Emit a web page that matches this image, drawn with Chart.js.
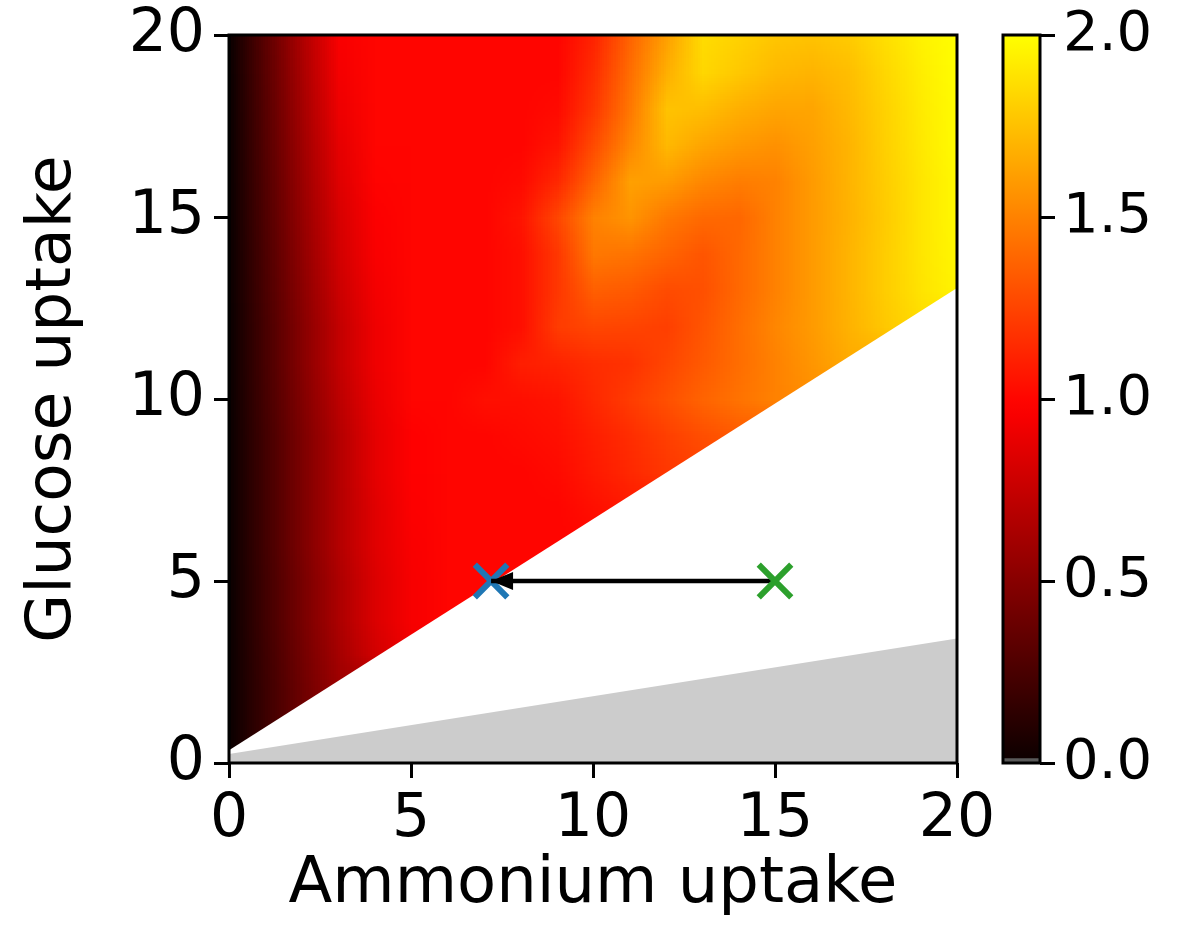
<!DOCTYPE html>
<html>
<head>
<meta charset="utf-8">
<script src="https://cdn.jsdelivr.net/npm/chart.js@4.4.1/dist/chart.umd.min.js"></script>
<style>
  html, body { margin: 0; padding: 0; background: #ffffff; }
  #wrap { position: relative; width: 1184px; height: 950px; overflow: hidden; }
  #main { position: absolute; left: 0; top: 0; }
  #cbar { position: absolute; left: 960px; top: 0; }
</style>
</head>
<body>
<div id="wrap">
  <canvas id="main" width="1184" height="950"></canvas>
  <canvas id="cbar" width="224" height="950"></canvas>
</div>
<script>
// ---------------- data ----------------
// grid nodes (ammonium uptake on x, glucose uptake on y)
const ammonium = [0,1,2,3,4,5,6,7,8,9,10,11,12,13,14,15,16,17,18,19,20];
const glucose  = [0,1,2,3,4,5,6,7,8,9,10,11,12,13,14,15,16,17,18,19,20];

// growth rate, one row per glucose level (row ends where the region turns white)
const g0  = [0.00, 0.20];
const g1  = [0.00, 0.20, 0.40];
const g2  = [0.00, 0.20, 0.40, 0.58];
const g3  = [0.00, 0.21, 0.42, 0.62, 0.80, 0.92];
const g4  = [0.00, 0.22, 0.44, 0.65, 0.84, 0.95, 1.00];
const g5  = [0.00, 0.22, 0.44, 0.65, 0.84, 0.95, 1.00, 1.00, 1.00];
const g6  = [0.00, 0.23, 0.46, 0.68, 0.86, 0.96, 1.00, 1.00, 1.00, 1.00];
const g7  = [0.00, 0.23, 0.46, 0.68, 0.86, 0.97, 1.00, 1.00, 1.00, 1.00, 1.04, 1.08];
const g8  = [0.00, 0.23, 0.46, 0.68, 0.88, 0.98, 1.00, 1.00, 1.00, 1.02, 1.08, 1.14, 1.20, 1.24];
const g9  = [0.00, 0.23, 0.46, 0.68, 0.88, 0.98, 1.00, 1.00, 1.02, 1.04, 1.10, 1.16, 1.23, 1.29, 1.34];
const g10 = [0.00, 0.24, 0.48, 0.71, 0.90, 1.00, 1.00, 1.04, 1.04, 1.06, 1.14, 1.22, 1.30, 1.38, 1.44, 1.50, 1.55];
const g11 = [0.00, 0.25, 0.50, 0.74, 0.92, 1.00, 1.00, 1.00, 1.10, 1.12, 1.16, 1.18, 1.26, 1.34, 1.42, 1.50, 1.58, 1.66];
const g12 = [0.00, 0.25, 0.50, 0.74, 0.92, 1.00, 1.00, 1.00, 1.04, 1.22, 1.26, 1.25, 1.23, 1.32, 1.42, 1.52, 1.60, 1.69, 1.78, 1.86];
const g13 = [0.00, 0.26, 0.52, 0.77, 0.94, 1.00, 1.00, 1.00, 1.04, 1.20, 1.36, 1.34, 1.28, 1.30, 1.40, 1.50, 1.60, 1.70, 1.80, 1.89, 1.96];
const g14 = [0.00, 0.27, 0.54, 0.80, 0.96, 1.00, 1.00, 1.00, 1.04, 1.20, 1.46, 1.44, 1.38, 1.32, 1.40, 1.50, 1.60, 1.70, 1.80, 1.90, 1.97];
const g15 = [0.00, 0.28, 0.56, 0.82, 0.97, 1.00, 1.00, 1.00, 1.06, 1.26, 1.50, 1.57, 1.46, 1.40, 1.39, 1.50, 1.60, 1.69, 1.79, 1.90, 1.98];
const g16 = [0.00, 0.29, 0.58, 0.85, 0.99, 1.00, 1.00, 1.00, 1.02, 1.14, 1.38, 1.62, 1.60, 1.52, 1.48, 1.50, 1.60, 1.70, 1.80, 1.90, 1.98];
const g17 = [0.00, 0.30, 0.60, 0.88, 1.00, 1.00, 1.00, 1.00, 1.00, 1.06, 1.28, 1.52, 1.72, 1.64, 1.59, 1.56, 1.62, 1.70, 1.81, 1.91, 1.99];
const g18 = [0.00, 0.31, 0.62, 0.91, 1.00, 1.00, 1.00, 1.00, 1.00, 1.02, 1.20, 1.46, 1.76, 1.74, 1.68, 1.64, 1.64, 1.72, 1.82, 1.92, 1.99];
const g19 = [0.00, 0.32, 0.64, 0.94, 1.00, 1.00, 1.00, 1.00, 1.00, 1.00, 1.16, 1.42, 1.68, 1.84, 1.78, 1.72, 1.70, 1.74, 1.84, 1.93, 2.00];
const g20 = [0.00, 0.33, 0.66, 0.96, 1.00, 1.00, 1.00, 1.00, 1.00, 1.00, 1.12, 1.38, 1.62, 1.86, 1.82, 1.77, 1.76, 1.79, 1.87, 1.95, 2.00];
const growthRows = [g0,g1,g2,g3,g4,g5,g6,g7,g8,g9,g10,g11,g12,g13,g14,g15,g16,g17,g18,g19,g20];

// region edges
const edgeAmmonium   = [0, 20];
const feasibleEdge   = [0.35, 13.05];   // above: coloured, below: white
const zeroGrowthEdge = [0.25, 3.42];    // below: grey

// markers and arrow
const startPoint   = [15, 5];    // green x
const optimumPoint = [7.2, 5];   // blue x

// tick labels
const xTickValues = [0, 5, 10, 15, 20];
const yTickValues = [0, 5, 10, 15, 20];
const cbarTickValues = [0, 0.5, 1.0, 1.5, 2.0];
const cbarMin = 0, cbarMax = 2.0, cbarUnderTop = 0.012;

// ---------------- helpers ----------------
const FONT = 'DejaVu Sans';
const TICK_SIZE = 60;
function hotColor(v) {
  const t = Math.max(0, Math.min(1, v / cbarMax)) * 0.746032;
  let r, g;
  if (t < 0.365079) { r = 0.0416 + (1 - 0.0416) * t / 0.365079; g = 0; }
  else { r = 1; g = Math.min(1, (t - 0.365079) / (0.746032 - 0.365079)); }
  return [Math.round(r * 255), Math.round(g * 255), 0];
}

const heatmapPlugin = {
  id: 'heatmap',
  beforeDatasetsDraw(chart) {
    const {ctx, chartArea, scales: {x, y}} = chart;
    const nx = ammonium.length, ny = glucose.length;
    const off = document.createElement('canvas');
    off.width = nx; off.height = ny;
    const octx = off.getContext('2d');
    const img = octx.createImageData(nx, ny);
    for (let j = 0; j < ny; j++) {
      const row = growthRows[j];
      let last = 0;
      for (let i = 0; i < nx; i++) {
        let v = row[i];
        if (v === undefined || v === null) v = last; else last = v;
        const c = hotColor(v);
        const p = ((ny - 1 - j) * nx + i) * 4;
        img.data[p] = c[0]; img.data[p + 1] = c[1]; img.data[p + 2] = c[2]; img.data[p + 3] = 255;
      }
    }
    octx.putImageData(img, 0, 0);
    const hx = (ammonium[1] - ammonium[0]) / 2, hy = (glucose[1] - glucose[0]) / 2;
    const left = x.getPixelForValue(ammonium[0] - hx);
    const right = x.getPixelForValue(ammonium[nx - 1] + hx);
    const top = y.getPixelForValue(glucose[ny - 1] + hy);
    const bottom = y.getPixelForValue(glucose[0] - hy);
    ctx.save();
    ctx.beginPath();
    ctx.rect(chartArea.left, chartArea.top, chartArea.right - chartArea.left, chartArea.bottom - chartArea.top);
    ctx.clip();
    ctx.imageSmoothingEnabled = true;
    ctx.imageSmoothingQuality = 'low';
    ctx.drawImage(off, left, top, right - left, bottom - top);
    ctx.restore();
  },
  afterDatasetsDraw(chart) {
    const {ctx, chartArea, scales: {x, y}} = chart;
    // arrow head at the optimum point
    const tx = x.getPixelForValue(optimumPoint[0]), ty = y.getPixelForValue(optimumPoint[1]);
    const sx = x.getPixelForValue(startPoint[0]), sy = y.getPixelForValue(startPoint[1]);
    const len = Math.hypot(sx - tx, sy - ty) || 1;
    const ux = (sx - tx) / len, uy = (sy - ty) / len;
    const hl = 22, hw = 9;
    ctx.save();
    ctx.fillStyle = '#000';
    ctx.beginPath();
    ctx.moveTo(tx, ty);
    ctx.lineTo(tx + ux * hl - uy * hw, ty + uy * hl + ux * hw);
    ctx.lineTo(tx + ux * hl + uy * hw, ty + uy * hl - ux * hw);
    ctx.closePath();
    ctx.fill();
    // frame
    ctx.strokeStyle = '#000';
    ctx.lineWidth = 3;
    ctx.strokeRect(chartArea.left, chartArea.top, chartArea.right - chartArea.left, chartArea.bottom - chartArea.top);
    ctx.restore();
  }
};

const pts = (xs, ys) => xs.map((v, i) => ({x: v, y: ys[i]}));

new Chart(document.getElementById('main'), {
  type: 'scatter',
  data: {
    datasets: [
      { label: 'optimum', data: [{x: optimumPoint[0], y: optimumPoint[1]}],
        pointStyle: 'crossRot', pointRadius: 23, pointHoverRadius: 23,
        borderColor: '#1f77b4', backgroundColor: '#1f77b4', borderWidth: 6, order: 3 },
      { label: 'arrow', type: 'line', data: [{x: startPoint[0], y: startPoint[1]}, {x: optimumPoint[0], y: optimumPoint[1]}],
        borderColor: '#000', borderWidth: 4.5, pointRadius: 0, fill: false, tension: 0, order: 2 },
      { label: 'start', data: [{x: startPoint[0], y: startPoint[1]}],
        pointStyle: 'crossRot', pointRadius: 23, pointHoverRadius: 23,
        borderColor: '#2ca02c', backgroundColor: '#2ca02c', borderWidth: 6, order: 1 },
      { label: 'infeasible', type: 'line', data: pts(edgeAmmonium, feasibleEdge),
        borderColor: 'rgba(0,0,0,0)', borderWidth: 1, pointRadius: 0,
        fill: 'origin', backgroundColor: '#ffffff', tension: 0, order: 10 },
      { label: 'zero', type: 'line', data: pts(edgeAmmonium, zeroGrowthEdge),
        borderColor: 'rgba(0,0,0,0)', borderWidth: 1, pointRadius: 0,
        fill: 'origin', backgroundColor: '#cccccc', tension: 0, order: 9 }
    ]
  },
  options: {
    responsive: false, animation: false, devicePixelRatio: 1,
    layout: { padding: { left: 0, top: 35, right: 227, bottom: 0 } },
    plugins: { legend: { display: false }, tooltip: { enabled: false } },
    scales: {
      x: {
        type: 'linear', position: 'bottom', min: 0, max: 20,
        afterBuildTicks: s => { s.ticks = xTickValues.map(v => ({value: v})); },
        afterFit: s => { s.height = 187; s.paddingLeft = 0; s.paddingRight = 0; },
        ticks: { font: {family: FONT, size: TICK_SIZE}, color: '#000', padding: 6, maxRotation: 0, autoSkip: false, callback: v => String(v) },
        grid: { display: true, drawOnChartArea: false, drawTicks: true, tickLength: 15, tickWidth: 3, tickColor: '#000', color: '#000' },
        border: { display: false },
        title: { display: true, text: 'Ammonium uptake', color: '#000', font: {family: FONT, size: 64}, padding: {top: 0, bottom: 26} }
      },
      y: {
        type: 'linear', position: 'left', min: 0, max: 20,
        afterBuildTicks: s => { s.ticks = yTickValues.map(v => ({value: v})); },
        afterFit: s => { s.width = 229; s.paddingTop = 0; s.paddingBottom = 0; },
        ticks: { font: {family: FONT, size: TICK_SIZE}, color: '#000', padding: 9, autoSkip: false, callback: v => String(v) },
        grid: { display: true, drawOnChartArea: false, drawTicks: true, tickLength: 15, tickWidth: 3, tickColor: '#000', color: '#000' },
        border: { display: false },
        title: { display: true, text: 'Glucose uptake', color: '#000', font: {family: FONT, size: 63}, padding: {top: 16, bottom: 0} }
      }
    }
  },
  plugins: [heatmapPlugin]
});

// ---------------- colour bar ----------------
const cbarFrame = {
  id: 'cbarFrame',
  afterDatasetsDraw(chart) {
    const {ctx, chartArea} = chart;
    ctx.save();
    ctx.strokeStyle = '#000';
    ctx.lineWidth = 3;
    ctx.strokeRect(chartArea.left, chartArea.top, chartArea.right - chartArea.left, chartArea.bottom - chartArea.top);
    ctx.restore();
  }
};

function cbarGradient(context) {
  const chart = context.chart;
  const {chartArea, scales} = chart;
  if (!chartArea || !scales.y) return '#ff0000';
  const y0 = scales.y.getPixelForValue(cbarMin), y1 = scales.y.getPixelForValue(cbarMax);
  const g = chart.ctx.createLinearGradient(0, y0, 0, y1);
  const steps = 40;
  for (let i = 0; i <= steps; i++) {
    const v = cbarMin + (cbarMax - cbarMin) * i / steps;
    const c = hotColor(v);
    g.addColorStop(i / steps, `rgb(${c[0]},${c[1]},${c[2]})`);
  }
  return g;
}

new Chart(document.getElementById('cbar'), {
  type: 'bar',
  data: {
    labels: ['growth'],
    datasets: [
      { data: [[cbarMin, cbarMax]], backgroundColor: cbarGradient, borderWidth: 0,
        barPercentage: 1, categoryPercentage: 1, grouped: false, order: 2 },
      { data: [[cbarMin, cbarUnderTop]], backgroundColor: '#5a5a5a', borderWidth: 0,
        barPercentage: 1, categoryPercentage: 1, grouped: false, order: 1 }
    ]
  },
  options: {
    responsive: false, animation: false, devicePixelRatio: 1,
    layout: { padding: { left: 43, top: 35, right: 0, bottom: 187 } },
    plugins: { legend: { display: false }, tooltip: { enabled: false } },
    scales: {
      x: { display: false },
      y: {
        position: 'right', min: cbarMin, max: cbarMax,
        afterBuildTicks: s => { s.ticks = cbarTickValues.map(v => ({value: v})); },
        afterFit: s => { s.width = 144; s.paddingTop = 0; s.paddingBottom = 0; },
        ticks: { font: {family: FONT, size: 56}, color: '#000', padding: 8, autoSkip: false, callback: v => Number(v).toFixed(1) },
        grid: { display: true, drawOnChartArea: false, drawTicks: true, tickLength: 15, tickWidth: 3, tickColor: '#000', color: '#000' },
        border: { display: false }
      }
    }
  },
  plugins: [cbarFrame]
});
</script>
</body>
</html>
